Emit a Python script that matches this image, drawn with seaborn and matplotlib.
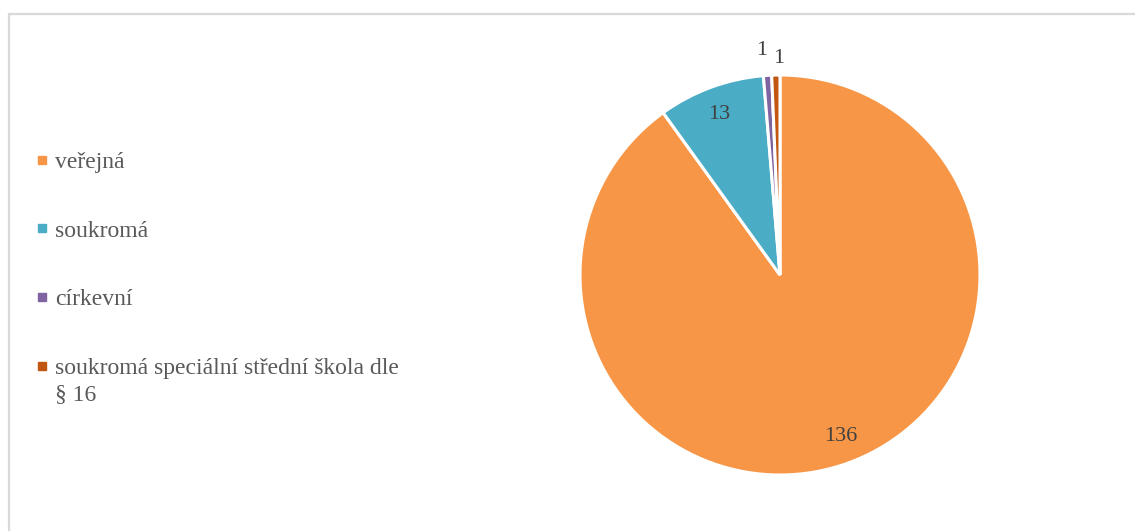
import numpy as np
import matplotlib
matplotlib.use("Agg")
import matplotlib.pyplot as plt
from matplotlib.lines import Line2D
from matplotlib.patches import Rectangle
import seaborn as sns

# School founder types and counts
categories = ["veřejná", "soukromá", "církevní", "soukromá speciální střední škola dle\n§ 16"]
counts = [136, 13, 1, 1]
colors = ["#F79646", "#4BACC6", "#8064A2", "#C0560F"]

sns.set_theme(style="white")
plt.rcParams["font.family"] = ["Liberation Serif", "DejaVu Serif"]

W, H = 1135, 531
fig = plt.figure(figsize=(W / 100, H / 100), dpi=100)
fig.patch.set_facecolor("white")

# Frame visible along the top and left edges
fig.add_artist(Rectangle((8.5 / W, -0.2), 1.5, 1.2 - 13.5 / H,
                         transform=fig.transFigure, fill=False,
                         edgecolor="#D9D9D9", linewidth=1.6))

# Pie: centre (780, 275), radius 200 px
cx, cy, r = 780, 275, 200
ax = fig.add_axes([(cx - r) / W, (H - cy - r) / H, 2 * r / W, 2 * r / H])
wedges, _ = ax.pie(counts, colors=colors, startangle=90, counterclock=False,
                   radius=1.0,
                   wedgeprops=dict(edgecolor="white", linewidth=2.2))
ax.set_xlim(-1, 1)
ax.set_ylim(-1, 1)
ax.set_aspect("equal")
ax.axis("off")

# Value labels: inside for large slices, outside for tiny ones
label_dist = [0.865, 0.86, 1.125, 1.085]
label_shift = [2.8, 0.5, 1.0, -0.9]
for w, v, d, s in zip(wedges, counts, label_dist, label_shift):
    ang = np.deg2rad((w.theta1 + w.theta2) / 2 + s)
    ax.text(d * np.cos(ang), d * np.sin(ang), str(v), ha="center", va="center",
            fontsize=16, color="#404040")

# Legend on the left
handles = [Line2D([], [], linestyle="none", marker="s", markersize=5.5,
                  markerfacecolor=c, markeredgecolor=c) for c in colors]
leg = fig.legend(handles, categories, loc="upper left",
                 bbox_to_anchor=(27 / W, 1 - 142 / H),
                 frameon=False, fontsize=17, labelspacing=2.0,
                 handlelength=0.5, handletextpad=0.3, borderaxespad=0)
for t in leg.get_texts():
    t.set_color("#595959")
    t.set_linespacing(1.35)
# keep the marker of the wrapped entry level with its first line
rows = leg._legend_handle_box.get_children()[0].get_children()
rows[-1].align = "top"

fig.savefig("out.png", dpi=100, facecolor="white")
